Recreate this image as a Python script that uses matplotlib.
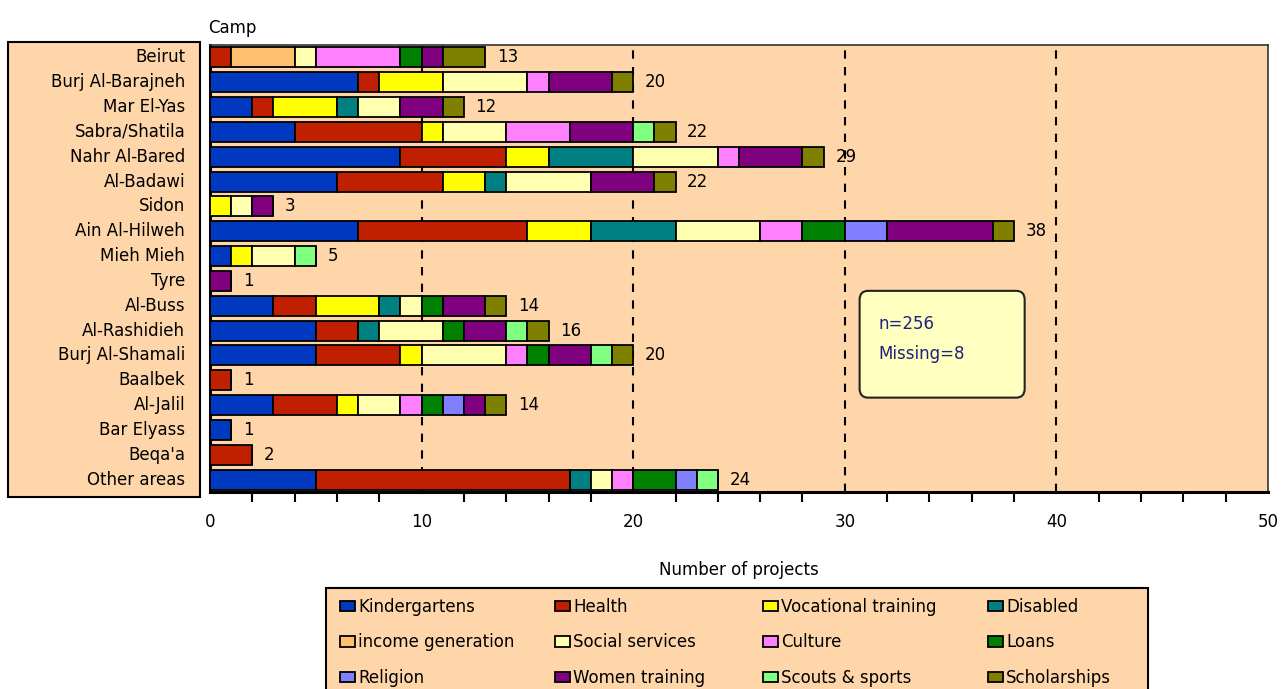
import numpy as np
import matplotlib
matplotlib.use("Agg")
import matplotlib.pyplot as plt
from matplotlib.patches import Rectangle, FancyBboxPatch

camps = ["Beirut", "Burj Al-Barajneh", "Mar El-Yas", "Sabra/Shatila", "Nahr Al-Bared",
         "Al-Badawi", "Sidon", "Ain Al-Hilweh", "Mieh Mieh", "Tyre", "Al-Buss",
         "Al-Rashidieh", "Burj Al-Shamali", "Baalbek", "Al-Jalil", "Bar Elyass",
         "Beqa'a", "Other areas"]

kindergartens = [0, 7, 2, 4, 9, 6, 0, 7, 1, 0, 3, 5, 5, 0, 3, 1, 0, 5]
health        = [1, 1, 1, 6, 5, 5, 0, 8, 0, 0, 2, 2, 4, 1, 3, 0, 2, 12]
vocational    = [0, 3, 3, 1, 2, 2, 1, 3, 1, 0, 3, 0, 1, 0, 1, 0, 0, 0]
disabled      = [0, 0, 1, 0, 4, 1, 0, 4, 0, 0, 1, 1, 0, 0, 0, 0, 0, 1]
income_gen    = [3, 0, 0, 0, 0, 0, 0, 0, 0, 0, 0, 0, 0, 0, 0, 0, 0, 0]
social        = [1, 4, 2, 3, 4, 4, 1, 4, 2, 0, 1, 3, 4, 0, 2, 0, 0, 1]
culture       = [4, 1, 0, 3, 1, 0, 0, 2, 0, 0, 0, 0, 1, 0, 1, 0, 0, 1]
loans         = [1, 0, 0, 0, 0, 0, 0, 2, 0, 0, 1, 1, 1, 0, 1, 0, 0, 2]
religion      = [0, 0, 0, 0, 0, 0, 0, 2, 0, 0, 0, 0, 0, 0, 1, 0, 0, 1]
women         = [1, 3, 2, 3, 3, 3, 1, 5, 0, 1, 2, 2, 2, 0, 1, 0, 0, 0]
scouts        = [0, 0, 0, 1, 0, 0, 0, 0, 1, 0, 0, 1, 1, 0, 0, 0, 0, 1]
scholarships  = [2, 1, 1, 1, 1, 1, 0, 1, 0, 0, 1, 1, 1, 0, 1, 0, 0, 0]

series = ["Kindergartens", "Health", "Vocational training", "Disabled",
          "income generation", "Social services", "Culture", "Loans",
          "Religion", "Women training", "Scouts & sports", "Scholarships"]
values = [kindergartens, health, vocational, disabled, income_gen, social,
          culture, loans, religion, women, scouts, scholarships]
colors = ["#0038C0", "#C02000", "#FFFF00", "#008080", "#FFC070", "#FFFFB0",
          "#FF80FF", "#008000", "#8080FF", "#800080", "#80FF80", "#808000"]

peach = "#FFD6A9"
fs = 12

fig = plt.figure(figsize=(12.82, 6.89), dpi=100)
fig.patch.set_facecolor("white")
ax = fig.add_axes([210/1282, 1 - 492/689, (1268-210)/1282, (492-45)/689])
ax.set_facecolor(peach)

y = np.arange(len(camps))
left = np.zeros(len(camps))
bars = []
for name, vals, c in zip(series, values, colors):
    vals = np.array(vals, dtype=float)
    b = ax.barh(y, vals, left=left, height=0.8, color=c, edgecolor="black",
                linewidth=1.3, label=name, zorder=3)
    bars.append(b)
    left += vals

totals = left
for yi, t in zip(y, totals):
    ax.text(t + 0.55, yi, str(int(t)), va="center", ha="left", fontsize=fs, zorder=4)

ax.set_xlim(0, 50)
ax.set_ylim(len(camps) - 0.5, -0.5)
for gx in [10, 20, 30, 40]:
    ax.axvline(gx, color="black", lw=1.5, ls=(0, (4, 4)), zorder=1)

ax.set_xticks([0, 10, 20, 30, 40, 50])
ax.set_xticklabels(["0", "10", "20", "30", "40", "50"], fontsize=fs)
ax.set_xticks([v for v in range(2, 50, 2) if v % 10 != 0], minor=True)
ax.tick_params(axis="x", which="major", length=0, pad=15)
ax.tick_params(axis="x", which="minor", length=7, width=1.5, direction="out")
ax.set_yticks([])
for s in ["top", "right"]:
    ax.spines[s].set_linewidth(1.2)
    ax.spines[s].set_color("#333333")
for s in ["bottom", "left"]:
    ax.spines[s].set_linewidth(2.2)

ax.set_xlabel("Number of projects", fontsize=fs, labelpad=22)

# camp label box
fig.patches.append(Rectangle((8/1282, 1 - 497/689), (200-8)/1282, (497-42)/689,
                             transform=fig.transFigure, facecolor=peach,
                             edgecolor="black", linewidth=1.5, zorder=-1))
for yi, name in zip(y, camps):
    ax.text(-0.0235, yi, name, transform=ax.get_yaxis_transform(),
            ha="right", va="center", fontsize=fs, clip_on=False, zorder=10)

fig.text(208/1282, 1 - 28/689, "Camp", fontsize=fs, ha="left", va="center")

# annotation box
tb = FancyBboxPatch((30.7, 9.4), 7.8, 4.3, boxstyle="round,pad=0,rounding_size=0.4",
                    facecolor="#FFFFC0", edgecolor="#222222", linewidth=1.5,
                    zorder=5, mutation_aspect=0.9)
ax.add_patch(tb)
ax.text(31.6, 10.75, "n=256", color="#202080", fontsize=fs, va="center", zorder=6)
ax.text(31.6, 11.95, "Missing=8", color="#202080", fontsize=fs, va="center", zorder=6)

# legend: frame plus one legend per column, entries read row by row
fig.patches.append(Rectangle((326/1282, -0.02), (1148-326)/1282, 0.02 + (689-588)/689,
                             transform=fig.transFigure, facecolor=peach,
                             edgecolor="black", linewidth=1.5, zorder=-1))
col_x = [340, 555, 763, 988]
for c, cx in enumerate(col_x):
    idx = [r * 4 + c for r in range(3)]
    lg = fig.legend([bars[i] for i in idx], [series[i] for i in idx],
                    loc="upper left", bbox_to_anchor=(cx/1282, 1 - 598/689),
                    fontsize=fs, frameon=False, handlelength=0.9, handleheight=0.6,
                    handletextpad=0.2, labelspacing=1.04, borderaxespad=0,
                    borderpad=0)

fig.savefig("out.png", dpi=100, facecolor="white")
